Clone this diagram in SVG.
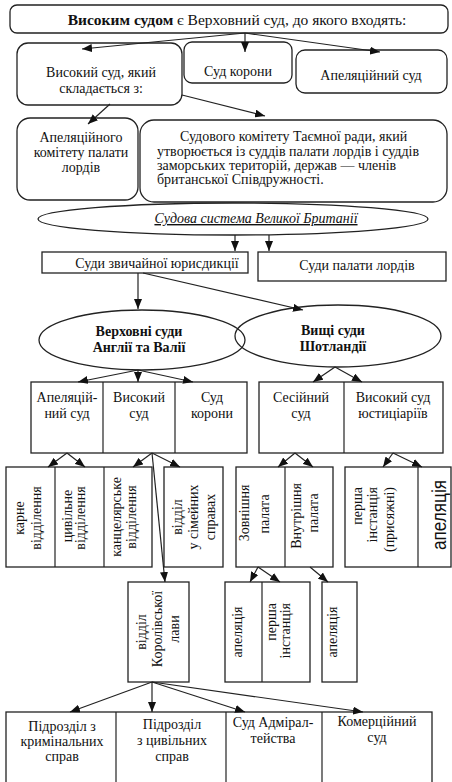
<svg xmlns="http://www.w3.org/2000/svg" width="452" height="782" viewBox="0 0 452 782">
<defs>
<style>
.b{fill:#fff;stroke:#222;stroke-width:1.3}
.e{fill:none;stroke:#222;stroke-width:1.3}
.d{stroke:#222;stroke-width:1.2}
.t{font-family:"Liberation Serif","Times New Roman",serif;font-size:14px;fill:#111;text-anchor:middle}
.s{text-anchor:start}
.n{text-anchor:end}
.bo{font-weight:bold}
.c line{stroke:#222;stroke-width:1.2;marker-end:url(#ah)}
</style>
<marker id="ah" viewBox="0 0 10 8" refX="10" refY="4" markerWidth="10" markerHeight="8" markerUnits="userSpaceOnUse" orient="auto">
<path d="M0,0 L10,4 L0,8 z" fill="#111"/>
</marker>
</defs>
<rect width="452" height="782" fill="#fff"/>

<g id="top">
<rect class="b" x="10" y="5" width="438" height="28" rx="7"/>
<text class="t" x="237" y="25" style="font-size:15.5px"><tspan class="bo">Високим судом</tspan> є Верховний суд, до якого входять:</text>
</g>

<g id="high-court">
<rect class="b" x="17" y="43" width="165" height="62" rx="11"/>
<text class="t" x="101" y="77">Високий суд, який</text>
<text class="t" x="101" y="93">складається з:</text>
</g>
<g id="crown-court">
<rect class="b" x="184" y="42" width="108" height="41" rx="8"/>
<text class="t" x="238" y="76">Суд корони</text>
</g>
<g id="appeal-court">
<rect class="b" x="296" y="50" width="151" height="43" rx="9"/>
<text class="t" x="371" y="80">Апеляційний суд</text>
</g>

<g id="lords-committee">
<rect class="b" x="17" y="118" width="121" height="82" rx="13"/>
<text class="t" x="81" y="142">Апеляційного</text>
<text class="t" x="81" y="157">комітету палати</text>
<text class="t" x="81" y="172">лордів</text>
</g>
<g id="privy-council">
<rect class="b" x="140" y="120" width="307" height="82" rx="14"/>
<text class="t s" x="180" y="141">Судового комітету Таємної ради, який</text>
<text class="t s" x="157" y="156">утворюється із суддів палати лордів і суддів</text>
<text class="t s" x="157" y="170">заморських територій, держав — членів</text>
<text class="t s" x="157" y="184">британської Співдружності.</text>
</g>

<g id="uk-system">
<ellipse class="b" cx="233" cy="219" rx="195" ry="16"/>
<text class="t" x="256" y="223" style="font-style:italic;text-decoration:underline">Судова система Великої Британії</text>
</g>

<g id="ordinary">
<rect class="b" x="42" y="252" width="206" height="21"/>
<text class="t" x="157" y="268">Суди звичайної юрисдикції</text>
</g>
<g id="lords-courts">
<rect class="b" x="258" y="252" width="188" height="29"/>
<text class="t" x="357" y="270">Суди палати лордів</text>
</g>

<g id="england">
<ellipse class="e" cx="142" cy="340" rx="103" ry="30"/>
<text class="t bo" x="139" y="336">Верховні суди</text>
<text class="t bo" x="139" y="352">Англії та Валії</text>
</g>
<g id="scotland">
<ellipse class="e" cx="338" cy="336" rx="103" ry="31"/>
<text class="t bo" x="333" y="335">Вищі суди</text>
<text class="t bo" x="333" y="351">Шотландії</text>
</g>

<g id="eng-courts">
<rect class="b" x="31" y="382" width="216" height="71"/>
<line class="d" x1="103" y1="382" x2="103" y2="453"/>
<line class="d" x1="175" y1="382" x2="175" y2="453"/>
<text class="t" x="67" y="402">Апеляцій-</text>
<text class="t" x="67" y="418">ний суд</text>
<text class="t" x="139" y="402">Високий</text>
<text class="t" x="139" y="418">суд</text>
<text class="t" x="212" y="402">Суд</text>
<text class="t" x="212" y="418">корони</text>
</g>
<g id="sco-courts">
<rect class="b" x="259" y="382" width="184" height="71"/>
<line class="d" x1="344" y1="382" x2="344" y2="453"/>
<text class="t" x="301" y="402">Сесійний</text>
<text class="t" x="301" y="418">суд</text>
<text class="t" x="393" y="402">Високий суд</text>
<text class="t" x="393" y="418">юстиціаріїв</text>
</g>

<g id="high-divisions">
<rect class="b" x="6" y="467" width="146" height="100"/>
<line class="d" x1="55" y1="467" x2="55" y2="567"/>
<line class="d" x1="104" y1="467" x2="104" y2="567"/>
<text class="t" transform="translate(24,518) rotate(-90)">карне</text>
<text class="t" transform="translate(41,518) rotate(-90)">відділення</text>
<text class="t" transform="translate(72,516) rotate(-90)">цивільне</text>
<text class="t" transform="translate(85,518) rotate(-90)">відділення</text>
<text class="t" transform="translate(121,517) rotate(-90)">канцелярське</text>
<text class="t" transform="translate(136,517) rotate(-90)">відділення</text>
</g>
<g id="family">
<rect class="b" x="164" y="467" width="59" height="100"/>
<text class="t" transform="translate(182,517) rotate(-90)">відділ</text>
<text class="t" transform="translate(198,517) rotate(-90)">у сімейних</text>
<text class="t" transform="translate(215,517) rotate(-90)">справах</text>
</g>
<g id="houses">
<rect class="b" x="236" y="467" width="97" height="100"/>
<line class="d" x1="285" y1="467" x2="285" y2="567"/>
<text class="t" transform="translate(249,513) rotate(-90)">Зовнішня</text>
<text class="t" transform="translate(269,514) rotate(-90)">палата</text>
<text class="t" transform="translate(301,516) rotate(-90)">Внутрішня</text>
<text class="t" transform="translate(318,513) rotate(-90)">палата</text>
</g>
<g id="justiciary">
<rect class="b" x="345" y="467" width="106" height="100"/>
<line class="d" x1="418" y1="467" x2="418" y2="567"/>
<text class="t n" transform="translate(362,487) rotate(-90)">перша</text>
<text class="t n" transform="translate(377,487) rotate(-90)">інстанція</text>
<text class="t n" transform="translate(394,487) rotate(-90)">(присяжні)</text>
<text class="t" transform="translate(446,515) rotate(-90)" style="font-family:'Liberation Sans',Arial,sans-serif;font-size:20px" textLength="70" lengthAdjust="spacingAndGlyphs">апеляція</text>
</g>

<g id="queens-bench">
<rect class="b" x="128" y="582" width="61" height="100"/>
<text class="t" transform="translate(146,632) rotate(-90)">відділ</text>
<text class="t" transform="translate(162,629) rotate(-90)">Королівської</text>
<text class="t" transform="translate(179,629) rotate(-90)">лави</text>
</g>
<g id="outer-house-split">
<rect class="b" x="225" y="582" width="85" height="100"/>
<line class="d" x1="262" y1="582" x2="262" y2="682"/>
<text class="t" transform="translate(242,632) rotate(-90)">апеляція</text>
<text class="t n" transform="translate(276,603) rotate(-90)">перша</text>
<text class="t n" transform="translate(290,603) rotate(-90)">інстанція</text>
</g>
<g id="inner-house-appeal">
<rect class="b" x="322" y="582" width="35" height="100"/>
<text class="t" transform="translate(337,632) rotate(-90)">апеляція</text>
</g>

<g id="qb-divisions">
<rect class="b" x="6" y="712" width="426" height="80"/>
<line class="d" x1="116" y1="712" x2="116" y2="782"/>
<line class="d" x1="226" y1="712" x2="226" y2="782"/>
<line class="d" x1="322" y1="712" x2="322" y2="782"/>
<text class="t" x="62" y="731">Підрозділ з</text>
<text class="t" x="62" y="746">кримінальних</text>
<text class="t" x="62" y="761">справ</text>
<text class="t" x="172" y="729">Підрозділ</text>
<text class="t" x="172" y="745">з цивільних</text>
<text class="t" x="172" y="761">справ</text>
<text class="t" x="273" y="727">Суд Адмірал-</text>
<text class="t" x="273" y="743">тейства</text>
<text class="t" x="377" y="726">Комерційний</text>
<text class="t" x="377" y="742">суд</text>
</g>

<g id="connectors" class="c">
<line x1="245" y1="33" x2="245" y2="52"/>
<line x1="245" y1="33" x2="82" y2="49"/>
<line x1="245" y1="33" x2="380" y2="52"/>
<line x1="110" y1="104" x2="88" y2="124"/>
<line x1="182" y1="95" x2="265" y2="116"/>
<line x1="235" y1="235" x2="235" y2="251"/>
<line x1="269" y1="235" x2="269" y2="251"/>
<line x1="138" y1="273" x2="138" y2="309"/>
<line x1="143" y1="273" x2="303" y2="310"/>
<line x1="138" y1="370" x2="78" y2="382"/>
<line x1="138" y1="370" x2="138" y2="382"/>
<line x1="138" y1="370" x2="193" y2="382"/>
<line x1="335" y1="367" x2="313" y2="382"/>
<line x1="335" y1="367" x2="362" y2="382"/>
<line x1="67" y1="453" x2="48" y2="467"/>
<line x1="67" y1="453" x2="85" y2="467"/>
<line x1="152" y1="453" x2="133" y2="467"/>
<line x1="152" y1="453" x2="180" y2="467"/>
<line x1="152" y1="453" x2="165" y2="582"/>
<line x1="295" y1="453" x2="278" y2="467"/>
<line x1="295" y1="453" x2="313" y2="467"/>
<line x1="393" y1="453" x2="383" y2="467"/>
<line x1="393" y1="453" x2="422" y2="467"/>
<line x1="258" y1="567" x2="250" y2="582"/>
<line x1="258" y1="567" x2="280" y2="582"/>
<line x1="310" y1="567" x2="328" y2="582"/>
<line x1="152" y1="682" x2="70" y2="712"/>
<line x1="152" y1="682" x2="152" y2="712"/>
<line x1="152" y1="682" x2="245" y2="712"/>
<line x1="152" y1="682" x2="363" y2="712"/>
</g>
</svg>
